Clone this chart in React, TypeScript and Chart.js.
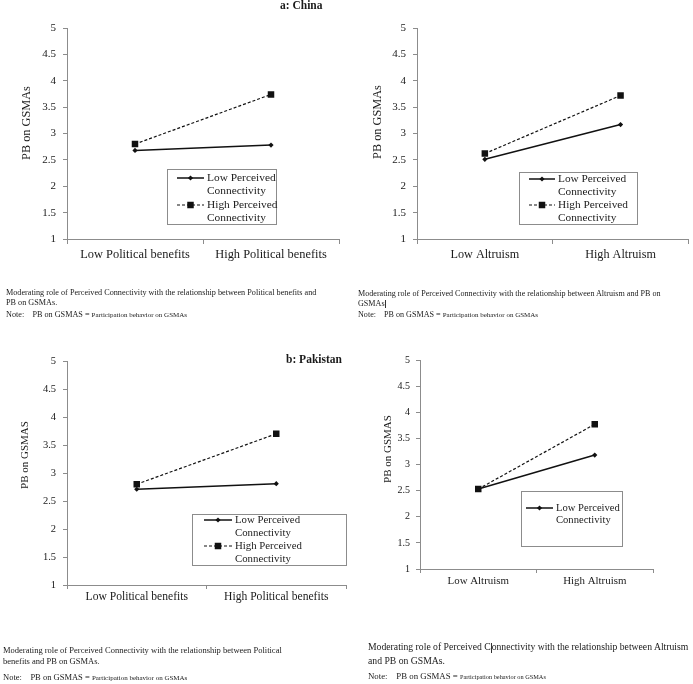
import React, { useEffect, useRef } from "react";
import { Chart, registerables } from "chart.js";

Chart.register(...registerables);

const FONT = '"Liberation Serif", "Times New Roman", Times, serif';
const PAGE_W = 693;
const PAGE_H = 684;
const AXIS_GREY = "#8c8c8c";
const INK = "#1a1a1a";

// ---------------- data ----------------
const politicalCategories = ["Low Political benefits", "High Political benefits"];
const altruismCategories = ["Low Altruism", "High Altruism"];
const yTickValues = [1, 1.5, 2, 2.5, 3, 3.5, 4, 4.5, 5];
const seriesLabels = ["Low Perceived Connectivity", "High Perceived Connectivity"];
const legendLines = [
  ["Low Perceived", "Connectivity"],
  ["High Perceived", "Connectivity"],
];

const chinaPoliticalLow = [2.68, 2.78];
const chinaPoliticalHigh = [2.8, 3.74];
const chinaAltruismLow = [2.51, 3.17];
const chinaAltruismHigh = [2.62, 3.72];
const pakistanPoliticalLow = [2.71, 2.81];
const pakistanPoliticalHigh = [2.8, 3.7];
const pakistanAltruismLow = [2.53, 3.18];
const pakistanAltruismHigh = [2.53, 3.77];

// ---------------- layout specs ----------------
type Area = { left: number; top: number; right: number; bottom: number };
interface PanelSpec {
  categories: string[];
  low: number[];
  high: number[];
  area: Area;
  yTitle: string;
  yTitleX: number;
  yTitleY: number;
  yTitleSize: number;
  tickSize: number;
  yTickLen: number;
  yTickPad: number;
  catSize: number;
  catTickLen: number;
  catPad: number;
  legendSize: number;
  legendBox: { x: number; y: number; w: number; h: number };
  legendLineX: [number, number];
  legendTextX: number;
  legendRows: number[];
  legendLineGap: number;
  legendEntries: number[];
}

const panels: PanelSpec[] = [
  {
    categories: politicalCategories,
    low: chinaPoliticalLow,
    high: chinaPoliticalHigh,
    area: { left: 67, top: 28, right: 339, bottom: 239 },
    yTitle: "PB on GSMAs",
    yTitleX: 27,
    yTitleY: 123,
    yTitleSize: 12.3,
    tickSize: 11,
    yTickLen: 4,
    yTickPad: 7,
    catSize: 12.4,
    catTickLen: 5,
    catPad: 3,
    legendSize: 11.4,
    legendBox: { x: 167, y: 169, w: 109, h: 55 },
    legendLineX: [177, 204],
    legendTextX: 207,
    legendRows: [178, 205],
    legendLineGap: 13,
    legendEntries: [0, 1],
  },
  {
    categories: altruismCategories,
    low: chinaAltruismLow,
    high: chinaAltruismHigh,
    area: { left: 417, top: 28, right: 692, bottom: 239 },
    yTitle: "PB on GSMAs",
    yTitleX: 378,
    yTitleY: 122,
    yTitleSize: 12.3,
    tickSize: 11,
    yTickLen: 4,
    yTickPad: 7,
    catSize: 12.2,
    catTickLen: 5,
    catPad: 3,
    legendSize: 11.3,
    legendBox: { x: 519, y: 172, w: 118, h: 52 },
    legendLineX: [529, 555],
    legendTextX: 558,
    legendRows: [179, 205],
    legendLineGap: 13,
    legendEntries: [0, 1],
  },
  {
    categories: politicalCategories,
    low: pakistanPoliticalLow,
    high: pakistanPoliticalHigh,
    area: { left: 67, top: 361, right: 346, bottom: 585 },
    yTitle: "PB on GSMAS",
    yTitleX: 25,
    yTitleY: 455,
    yTitleSize: 11,
    tickSize: 10.5,
    yTickLen: 4,
    yTickPad: 7,
    catSize: 11.6,
    catTickLen: 4,
    catPad: 1,
    legendSize: 10.8,
    legendBox: { x: 192, y: 514, w: 154, h: 51 },
    legendLineX: [204, 232],
    legendTextX: 235,
    legendRows: [520, 546],
    legendLineGap: 13,
    legendEntries: [0, 1],
  },
  {
    categories: altruismCategories,
    low: pakistanAltruismLow,
    high: pakistanAltruismHigh,
    area: { left: 420, top: 360, right: 653, bottom: 569 },
    yTitle: "PB on GSMAS",
    yTitleX: 388,
    yTitleY: 449,
    yTitleSize: 11,
    tickSize: 10,
    yTickLen: 4,
    yTickPad: 6,
    catSize: 10.9,
    catTickLen: 4,
    catPad: 1.5,
    legendSize: 10.6,
    legendBox: { x: 521, y: 491, w: 101, h: 55 },
    legendLineX: [526, 553],
    legendTextX: 556,
    legendRows: [508],
    legendLineGap: 12,
    legendEntries: [0],
  },
];

const Y_W = 50;
const X_H = 30;

function drawMarker(ctx: CanvasRenderingContext2D, style: string, x: number, y: number, r: number) {
  ctx.beginPath();
  if (style === "rect") {
    const s = Math.SQRT1_2 * r;
    ctx.rect(x - s, y - s, 2 * s, 2 * s);
  } else {
    ctx.moveTo(x - r, y);
    ctx.lineTo(x, y - r);
    ctx.lineTo(x + r, y);
    ctx.lineTo(x, y + r);
    ctx.closePath();
  }
  ctx.fill();
}

function Panel({ spec }: { spec: PanelSpec }) {
  const ref = useRef<HTMLCanvasElement | null>(null);
  useEffect(() => {
    if (!ref.current) return;
    const a = spec.area;
    const overlay = {
      id: "panelOverlay",
      afterDraw(chart: any) {
        const ctx: CanvasRenderingContext2D = chart.ctx;
        // y-axis title
        ctx.save();
        ctx.translate(spec.yTitleX, spec.yTitleY);
        ctx.rotate(-Math.PI / 2);
        ctx.font = `${spec.yTitleSize}px ${FONT}`;
        ctx.fillStyle = INK;
        ctx.textAlign = "center";
        ctx.textBaseline = "middle";
        ctx.fillText(spec.yTitle, 0, 0);
        ctx.restore();
        // legend
        const b = spec.legendBox;
        ctx.save();
        ctx.strokeStyle = AXIS_GREY;
        ctx.lineWidth = 1;
        ctx.strokeRect(b.x + 0.5, b.y + 0.5, b.w, b.h);
        spec.legendEntries.forEach((dsIndex, i) => {
          const ds: any = chart.data.datasets[dsIndex];
          const y = spec.legendRows[i];
          ctx.strokeStyle = ds.borderColor;
          ctx.lineWidth = ds.borderWidth;
          ctx.setLineDash(ds.borderDash || []);
          ctx.beginPath();
          ctx.moveTo(spec.legendLineX[0], y);
          ctx.lineTo(spec.legendLineX[1], y);
          ctx.stroke();
          ctx.setLineDash([]);
          ctx.fillStyle = ds.pointBackgroundColor;
          drawMarker(ctx, ds.pointStyle, (spec.legendLineX[0] + spec.legendLineX[1]) / 2, y, ds.pointRadius);
          ctx.font = `${spec.legendSize}px ${FONT}`;
          ctx.fillStyle = INK;
          ctx.textAlign = "left";
          ctx.textBaseline = "middle";
          legendLines[dsIndex].forEach((line, k) => {
            ctx.fillText(line, spec.legendTextX, y + k * spec.legendLineGap);
          });
        });
        ctx.restore();
      },
    };

    const chart = new Chart(ref.current, {
      type: "line",
      data: {
        labels: spec.categories,
        datasets: [
          {
            label: seriesLabels[0],
            data: spec.low,
            borderColor: "#111111",
            borderWidth: 1.5,
            pointStyle: "rectRot",
            pointRadius: 2.6,
            pointBorderWidth: 0,
            pointBackgroundColor: "#111111",
            fill: false,
            tension: 0,
          },
          {
            label: seriesLabels[1],
            data: spec.high,
            borderColor: "#111111",
            borderWidth: 1.2,
            borderDash: [3, 2],
            pointStyle: "rect",
            pointRadius: 4.6,
            pointBorderWidth: 0,
            pointBackgroundColor: "#111111",
            fill: false,
            tension: 0,
          },
        ],
      } as any,
      options: {
        responsive: false,
        animation: false,
        devicePixelRatio: 1,
        events: [],
        layout: {
          padding: {
            left: a.left - Y_W,
            top: a.top,
            right: PAGE_W - a.right,
            bottom: PAGE_H - a.bottom - X_H,
          },
        },
        plugins: {
          legend: { display: false },
          tooltip: { enabled: false },
          title: { display: false },
        },
        scales: {
          x: {
            type: "category",
            offset: true,
            afterFit: (s: any) => {
              s.height = X_H;
            },
            grid: {
              offset: true,
              drawOnChartArea: false,
              drawTicks: true,
              tickLength: spec.catTickLen,
              color: AXIS_GREY,
            },
            border: { display: true, color: AXIS_GREY, width: 1 },
            ticks: {
              font: { family: FONT, size: spec.catSize },
              color: INK,
              padding: spec.catPad,
              maxRotation: 0,
              autoSkip: false,
            },
          },
          y: {
            type: "linear",
            min: 1,
            max: 5,
            afterFit: (s: any) => {
              s.width = Y_W;
            },
            afterBuildTicks: (s: any) => {
              s.ticks = yTickValues.map((v) => ({ value: v }));
            },
            grid: {
              drawOnChartArea: false,
              drawTicks: true,
              tickLength: spec.yTickLen,
              color: AXIS_GREY,
            },
            border: { display: true, color: AXIS_GREY, width: 1 },
            ticks: {
              font: { family: FONT, size: spec.tickSize },
              color: INK,
              padding: spec.yTickPad,
              callback: (v: any) => String(v),
            },
          },
        },
      } as any,
      plugins: [overlay],
    });
    return () => chart.destroy();
  }, [spec]);
  return (
    <canvas
      ref={ref}
      width={PAGE_W}
      height={PAGE_H}
      style={{ position: "absolute", left: 0, top: 0, width: PAGE_W, height: PAGE_H, pointerEvents: "none" }}
    />
  );
}

const textBase: React.CSSProperties = {
  position: "absolute",
  fontFamily: FONT,
  color: INK,
  whiteSpace: "pre",
};

function Cursor({ h }: { h: number }) {
  return (
    <span
      style={{
        display: "inline-block",
        width: 0,
        height: h,
        borderLeft: "1px solid #333",
        verticalAlign: "middle",
      }}
    />
  );
}

function Note({ left, top, size, small, lh }: { left: number; top: number; size: number; small: number; lh: number }) {
  return (
    <div style={{ ...textBase, left, top, fontSize: size, lineHeight: `${lh}px` }}>
      {"Note:    PB on GSMAS = "}
      <span style={{ fontSize: small }}>Participation behavior on GSMAs</span>
    </div>
  );
}

export default function App() {
  return (
    <div style={{ position: "absolute", left: 0, top: 0, width: PAGE_W, height: PAGE_H, background: "#ffffff", overflow: "hidden" }}>
      {panels.map((p, i) => (
        <Panel key={i} spec={p} />
      ))}
      <div style={{ ...textBase, left: 280, top: -2, fontSize: 11.5, fontWeight: "bold", lineHeight: "14px" }}>a: China</div>
      <div style={{ ...textBase, left: 286, top: 352, fontSize: 11.5, fontWeight: "bold", lineHeight: "14px" }}>b: Pakistan</div>

      <div style={{ ...textBase, left: 6, top: 288, fontSize: 8.2, lineHeight: "10px" }}>
        {"Moderating role of Perceived Connectivity with the relationship between Political benefits and\nPB on GSMAs."}
      </div>
      <Note left={6} top={310} size={8.2} small={7} lh={10} />

      <div style={{ ...textBase, left: 358, top: 289, fontSize: 8.1, lineHeight: "10px" }}>
        {"Moderating role of Perceived Connectivity with the relationship between Altruism and PB on\nGSMAs"}
        <Cursor h={8} />
      </div>
      <Note left={358} top={310} size={8.1} small={7} lh={10} />

      <div style={{ ...textBase, left: 3, top: 644.5, fontSize: 8.5, lineHeight: "11px" }}>
        {"Moderating role of Perceived Connectivity with the relationship between Political\nbenefits and PB on GSMAs."}
      </div>
      <Note left={3} top={671.5} size={8.5} small={7} lh={11} />

      <div style={{ ...textBase, left: 368, top: 640, fontSize: 9.7, lineHeight: "14px" }}>
        {"Moderating role of Perceived C"}
        <Cursor h={10} />
        {"onnectivity with the relationship between Altruism\nand PB on GSMAs."}
      </div>
      <Note left={368} top={671} size={8.8} small={6.3} lh={11} />
    </div>
  );
}
